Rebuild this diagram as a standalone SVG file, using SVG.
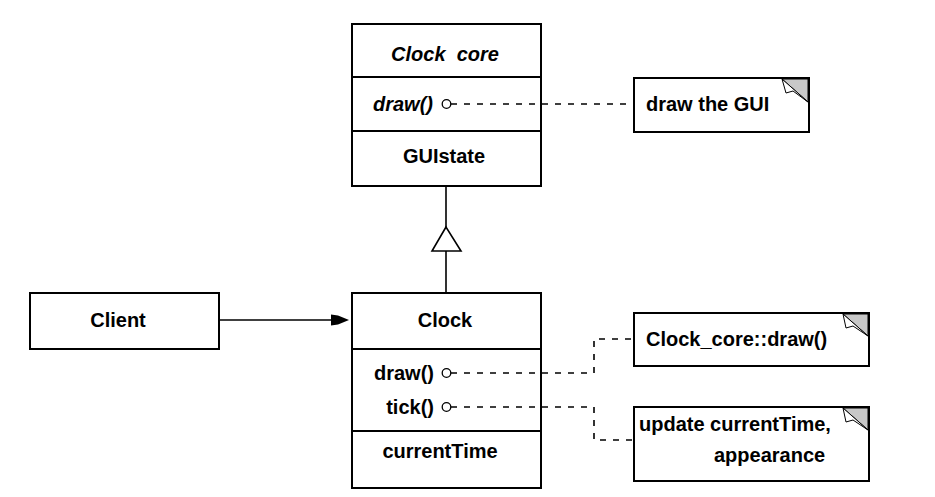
<svg xmlns="http://www.w3.org/2000/svg" width="935" height="497" viewBox="0 0 935 497">
<style>
.box{fill:#fff;stroke:#000;stroke-width:2}
.sep{stroke:#000;stroke-width:1.8}
.t{font-family:"Liberation Sans",Arial,sans-serif;font-size:20px;font-weight:bold;fill:#000}
.i{font-style:italic}
.m{text-anchor:middle}
.e{text-anchor:end}
.dash{fill:none;stroke:#000;stroke-width:1.6;stroke-dasharray:6 7}
.line{fill:none;stroke:#000;stroke-width:1.6}
.port{fill:#fff;stroke:#000;stroke-width:1.3}
.ear{fill:#c8c8c8;stroke:#000;stroke-width:1}
.flap{fill:#fff;stroke:#000;stroke-width:1}
</style>
<rect width="935" height="497" fill="#fff"/>
<g id="clock_core">
  <rect class="box" x="352" y="24" width="189" height="162"/>
  <line class="sep" x1="352" y1="77" x2="541" y2="77"/>
  <line class="sep" x1="352" y1="131" x2="541" y2="131"/>
  <text class="t i m" x="445" y="61" xml:space="preserve">Clock  core</text>
  <text class="t i e" x="433" y="111">draw()</text>
  <text class="t m" x="444" y="163">GUIstate</text>
</g>
<g id="note_draw_gui">
  <rect class="box" x="634" y="78" width="175" height="54"/>
  <polygon class="ear" points="782,79 808,79 808,102"/>
  <path class="flap" d="M782,79 L786,93 L793,91 L808,102 Z"/>
  <text class="t" x="646" y="111">draw the GUI</text>
</g>
<g id="client">
  <rect class="box" x="30" y="293" width="189" height="56"/>
  <text class="t m" x="118" y="327">Client</text>
</g>
<g id="clock">
  <rect class="box" x="352" y="293" width="189" height="195"/>
  <line class="sep" x1="352" y1="349" x2="541" y2="349"/>
  <line class="sep" x1="352" y1="431" x2="541" y2="431"/>
  <text class="t m" x="445" y="327">Clock</text>
  <text class="t e" x="434" y="380">draw()</text>
  <text class="t e" x="434" y="414">tick()</text>
  <text class="t m" x="440" y="458">currentTime</text>
</g>
<g id="note_clock_core_draw">
  <rect class="box" x="634" y="313" width="235" height="53"/>
  <polygon class="ear" points="843,314 868,314 868,336"/>
  <path class="flap" d="M843,314 L846,328 L853,326 L868,336 Z"/>
  <text class="t" x="646" y="346">Clock_core::draw()</text>
</g>
<g id="note_update">
  <rect class="box" x="634" y="407" width="235" height="74"/>
  <polygon class="ear" points="843,408 868,408 868,430"/>
  <path class="flap" d="M843,408 L846,422 L853,420 L868,430 Z"/>
  <text class="t" x="639" y="431">update currentTime,</text>
  <text class="t" x="714" y="462">appearance</text>
</g>
<g id="connectors">
  <path class="dash" d="M451,104 H634"/>
  <path class="dash" d="M451,373 H594 V339 H634"/>
  <path class="dash" d="M451,407 H594 V440 H634"/>
  <circle class="port" cx="446.5" cy="104" r="4.3"/>
  <circle class="port" cx="446.5" cy="373" r="4.3"/>
  <circle class="port" cx="446.5" cy="407" r="4.3"/>
  <path class="line" d="M446,186 V227 M446,251 V293"/>
  <polygon points="446,227 432,251 461,251" fill="#fff" stroke="#000" stroke-width="1.6"/>
  <path class="line" d="M219,320 H335"/>
  <polygon points="331,314.5 338,315.5 349,320 338,324.5 331,325.5" fill="#000"/>
</g>
</svg>
